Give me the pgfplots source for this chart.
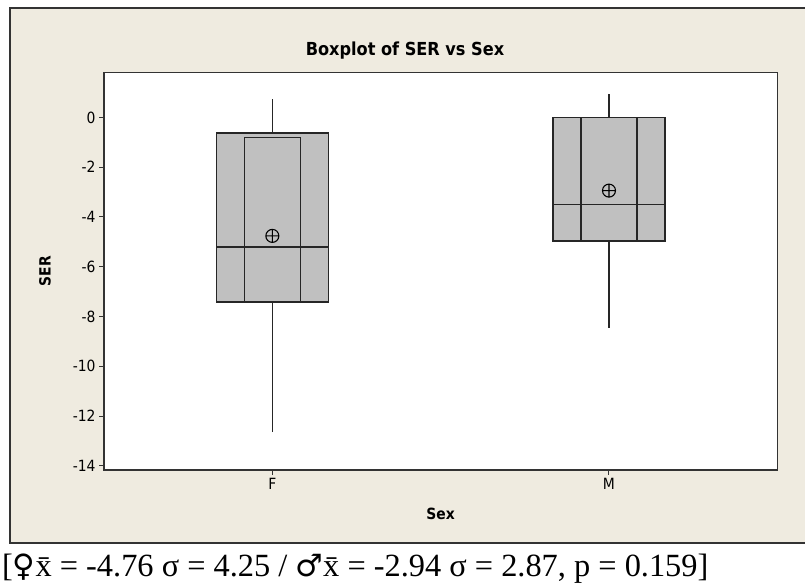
\documentclass[border=0pt]{standalone}
\usepackage{fontspec}
\setmainfont{Liberation Serif}
\newfontfamily\chartfont{DejaVu Sans Condensed}
\newfontfamily\symfont{DejaVu Sans}
\usepackage{pgfplots}
\pgfplotsset{compat=1.18}
\usepgfplotslibrary{statistics}
\definecolor{framebg}{HTML}{EFEBE0}
\definecolor{boxgray}{HTML}{C0C0C0}
\definecolor{frameline}{HTML}{333333}
\newcommand{\bigsym}[1]{{\symfont\fontsize{31}{31}\selectfont #1}}
\begin{document}
\begin{tikzpicture}[x=1bp,y=1bp]
\useasboundingbox (0,0) rectangle (805,584);
\fill[white] (0,0) rectangle (805,584);
\draw[line width=1.5bp, draw=frameline, fill=framebg] (10,41) rectangle (820,576);
\node[font=\chartfont\bfseries\fontsize{18}{18}\selectfont] at (405,533) {Boxplot of SER vs Sex};
\begin{axis}[
  at={(104bp,114bp)}, anchor=south west,
  scale only axis, width=673.3bp, height=397.3bp,
  axis background/.style={fill=white},
  axis line style={draw=frameline, line width=1.3bp},
  xmin=0.5, xmax=2.5, ymin=-14.17, ymax=1.8,
  xtick={1,2}, xticklabels={F,M},
  ytick={-14,-12,-10,-8,-6,-4,-2,0},
  yticklabels={-14,-12,-10,-8,-6,-4,-2,0},
  xtick pos=bottom, ytick pos=left, tick align=outside,
  major tick length=5bp,
  tick style={draw=frameline, line width=1bp},
  ticklabel style={font=\chartfont\fontsize{15.5}{15.5}\selectfont},
  xlabel={Sex}, ylabel={SER},
  label style={font=\chartfont\bfseries\fontsize{15.5}{15.5}\selectfont},
  xlabel style={at={(axis description cs:0.5,-0.1107)}, anchor=center},
  ylabel style={at={(axis description cs:-0.0876,0.5)}, anchor=center},
  boxplot/draw direction=y,
  clip=false,
]
\addplot[boxplot prepared={lower whisker=-12.66, lower quartile=-7.42, median=-5.21,
  upper quartile=-0.63, upper whisker=0.74, draw position=1, box extend=0.333, whisker extend=0},
  fill=boxgray, draw=black!85, line width=1.3bp] coordinates {};
\addplot[boxplot prepared={lower whisker=-8.45, lower quartile=-4.96, median=-3.50,
  upper quartile=0.0, upper whisker=0.96, draw position=2, box extend=0.333, whisker extend=0},
  fill=boxgray, draw=black!85, line width=1.3bp] coordinates {};
\addplot[draw=black!85, line width=1.3bp] coordinates {(0.917,-7.42) (1.083,-7.42) (1.083,-0.80) (0.917,-0.80)} -- cycle;
\addplot[draw=black!85, line width=1.3bp] coordinates {(1.917,-4.96) (2.083,-4.96) (2.083,0.0) (1.917,0.0)} -- cycle;
\addplot[only marks, mark=oplus, mark size=6.5bp, mark options={line width=1.1bp, draw=black}] coordinates {(1,-4.76) (2,-2.94)};
\end{axis}
\node[anchor=base west, inner sep=0pt, font=\fontsize{32.5}{32.5}\selectfont] at (2,7.3) {[\bigsym{♀}x̄ = -4.76 σ = 4.25 / \bigsym{♂}x̄ = -2.94 σ = 2.87, p = 0.159]};
\end{tikzpicture}
\end{document}
